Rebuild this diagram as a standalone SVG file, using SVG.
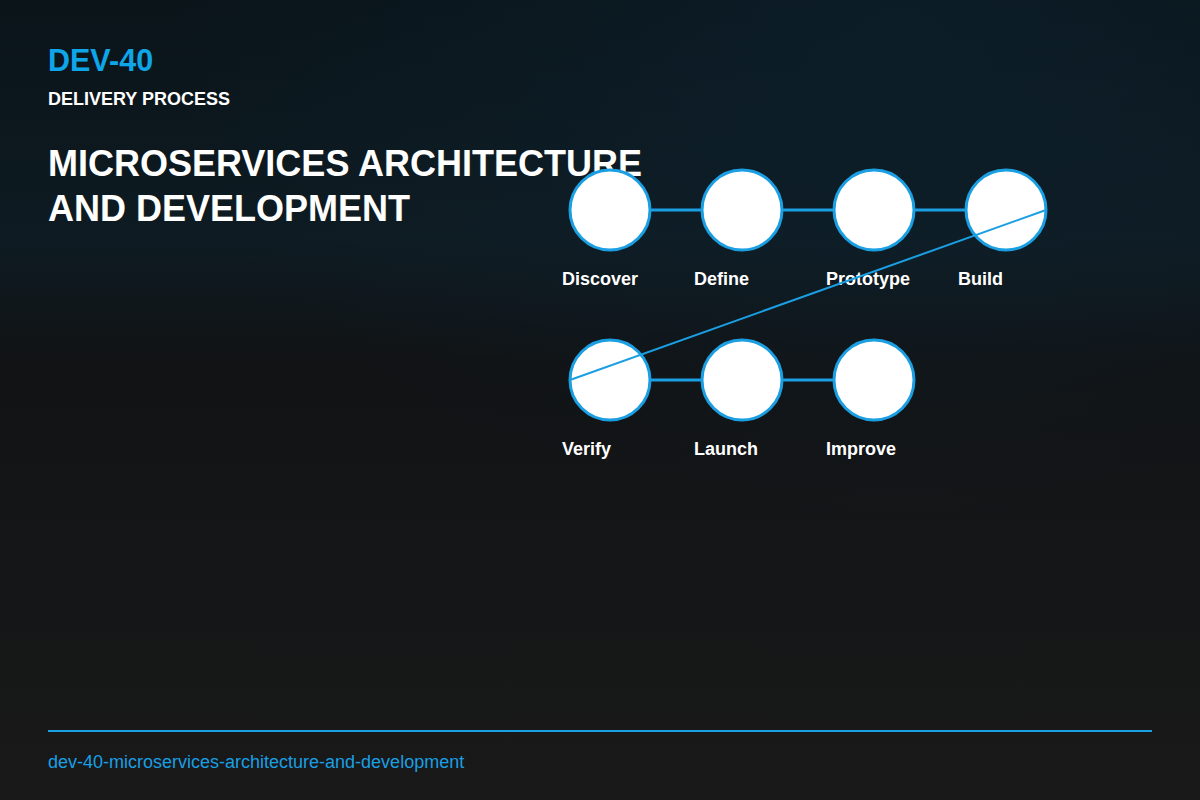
<svg xmlns="http://www.w3.org/2000/svg" width="1200" height="800" viewBox="0 0 1200 800">
<defs>
<linearGradient id="bg" x1="0" y1="0" x2="0" y2="1">
<stop offset="0" stop-color="#0a1419"/>
<stop offset="0.3" stop-color="#0e1b22"/>
<stop offset="0.45" stop-color="#111315"/>
<stop offset="1" stop-color="#191919"/>
</linearGradient>
<radialGradient id="glow" cx="0.75" cy="0.05" r="0.6">
<stop offset="0" stop-color="#0d2230" stop-opacity="0.6"/>
<stop offset="1" stop-color="#0d2230" stop-opacity="0"/>
</radialGradient>
<style>
.node{fill:#ffffff;stroke:#1a9fe3;stroke-width:3}
.lbl{font-family:"Liberation Sans",Arial,sans-serif;font-weight:bold;font-size:18px;fill:#ffffff}
.edge{stroke:#1a9fe3;stroke-width:3;fill:none}
.diag{stroke:#1a9fe3;stroke-width:2;fill:none}
</style>
</defs>
<rect width="1200" height="800" fill="url(#bg)"/>
<rect width="1200" height="800" fill="url(#glow)"/>
<g id="header">
<text x="48" y="71" font-family="Liberation Sans,Arial,sans-serif" font-weight="bold" font-size="30.5" fill="#0ea5e9">DEV-40</text>
<text x="48" y="105" font-family="Liberation Sans,Arial,sans-serif" font-weight="bold" font-size="18" fill="#ffffff">DELIVERY PROCESS</text>
<text x="48" y="176" font-family="Liberation Sans,Arial,sans-serif" font-weight="bold" font-size="36" fill="#ffffff">MICROSERVICES ARCHITECTURE</text>
<text x="48" y="221" font-family="Liberation Sans,Arial,sans-serif" font-weight="bold" font-size="36" fill="#ffffff">AND DEVELOPMENT</text>
</g>
<g id="connectors-row">
<line class="edge" x1="650" y1="210" x2="702" y2="210"/>
<line class="edge" x1="782" y1="210" x2="834" y2="210"/>
<line class="edge" x1="914" y1="210" x2="966" y2="210"/>
<line class="edge" x1="650" y1="380" x2="702" y2="380"/>
<line class="edge" x1="782" y1="380" x2="834" y2="380"/>
</g>
<g id="n-discover"><circle class="node" cx="610" cy="210" r="40"/><text class="lbl" x="562" y="285">Discover</text></g>
<g id="n-define"><circle class="node" cx="742" cy="210" r="40"/><text class="lbl" x="694" y="285">Define</text></g>
<g id="n-prototype"><circle class="node" cx="874" cy="210" r="40"/><text class="lbl" x="826" y="285">Prototype</text></g>
<g id="n-build"><circle class="node" cx="1006" cy="210" r="40"/><text class="lbl" x="958" y="285">Build</text></g>
<g id="n-verify"><circle class="node" cx="610" cy="380" r="40"/><text class="lbl" x="562" y="455">Verify</text></g>
<g id="n-launch"><circle class="node" cx="742" cy="380" r="40"/><text class="lbl" x="694" y="455">Launch</text></g>
<g id="n-improve"><circle class="node" cx="874" cy="380" r="40"/><text class="lbl" x="826" y="455">Improve</text></g>
<g id="connectors-wrap">
<line class="diag" x1="1046" y1="210" x2="570" y2="380"/>
</g>
<g id="footer">
<line x1="48" y1="731" x2="1152" y2="731" stroke="#1a9fe3" stroke-width="2"/>
<text x="48" y="768" font-family="Liberation Sans,Arial,sans-serif" font-size="18" fill="#1a9fe3">dev-40-microservices-architecture-and-development</text>
</g>
</svg>
